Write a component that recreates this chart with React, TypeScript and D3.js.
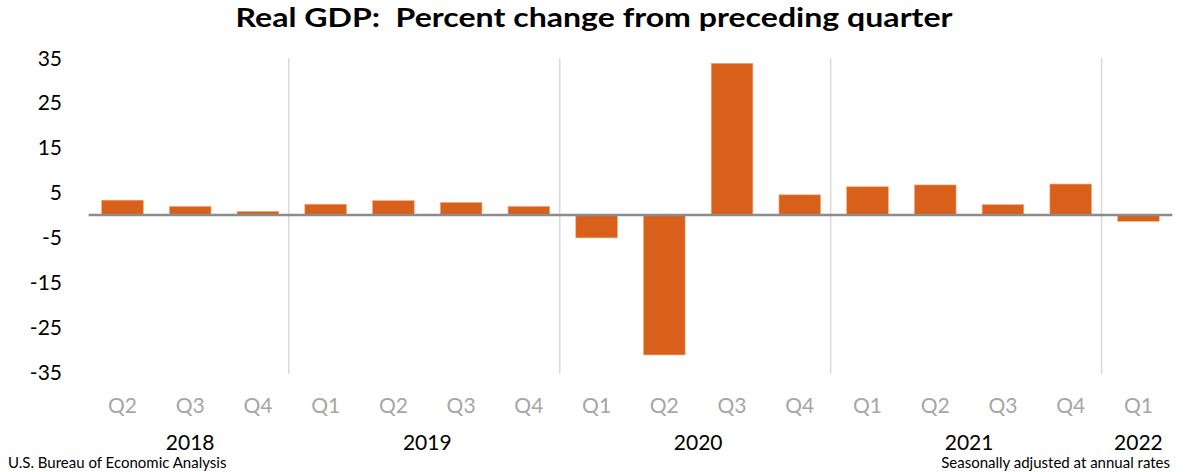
import React from "react";
import * as d3 from "d3";

const quarters = ["Q2","Q3","Q4","Q1","Q2","Q3","Q4","Q1","Q2","Q3","Q4","Q1","Q2","Q3","Q4","Q1"];
const yearOf = ["2018","2018","2018","2019","2019","2019","2019","2020","2020","2020","2020","2021","2021","2021","2021","2022"];
const values = [3.3, 1.9, 0.8, 2.4, 3.2, 2.8, 1.9, -5.1, -31.2, 33.8, 4.5, 6.3, 6.7, 2.3, 6.9, -1.4];
const yTicks = [35, 25, 15, 5, -5, -15, -25, -35];
const years = ["2018", "2019", "2020", "2021", "2022"];
const title = "Real GDP:  Percent change from preceding quarter";
const sourceNote = "U.S. Bureau of Economic Analysis";
const rateNote = "Seasonally adjusted at annual rates";

const W = 1185;
const H = 472;
const FONT = "Lato, 'Open Sans', sans-serif";

export default function App() {
  const idx = values.map((_, i) => i);
  const x = d3.scaleBand<number>().domain(idx).range([88.6, 1172.3]);
  const y = d3.scaleLinear().domain([-35, 35]).range([372, 58]);
  const step = x.step();
  const band0 = 88.6;
  const catCenter = (i: number) => (x(i) as number) + step / 2;

  const groups = years.map((yr) => {
    const ids = idx.filter((i) => yearOf[i] === yr);
    return { yr, first: ids[0], last: ids[ids.length - 1] };
  });

  return (
    <div style={{ position: "absolute", left: 0, top: 0 }}>
      <svg width={W} height={H} style={{ display: "block", background: "#fff" }}>
        <text x={594} y={27} textAnchor="middle" fontFamily={FONT} fontWeight={700} fontSize={27}
          textLength={717} lengthAdjust="spacingAndGlyphs" fill="#000" style={{ whiteSpace: "pre" }}>{title}</text>

        {groups.slice(1).map((g) => (
          <line key={g.yr} x1={(x(g.first) as number) - 3} x2={(x(g.first) as number) - 3}
            y1={y(35)} y2={374} stroke="#d9d9d9" strokeWidth={1.5} />
        ))}

        {yTicks.map((t) => (
          <text key={t} x={62} y={y(t)} dy="0.36em" textAnchor="end" fontFamily={FONT} fontSize={21} fill="#000">{t}</text>
        ))}

        {values.map((v, i) => (
          <rect key={i} x={catCenter(i) - 20.8} width={41.6}
            y={Math.min(y(v), y(0))} height={Math.abs(y(v) - y(0))}
            fill="#d9601a" stroke="#f2a779" strokeWidth={0.6} />
        ))}

        <line x1={band0} x2={band0 + step * values.length} y1={y(0)} y2={y(0)} stroke="#8c8c8c" strokeWidth={2.5} />

        {quarters.map((q, i) => (
          <text key={i} x={catCenter(i)} y={405} dy="0.36em" textAnchor="middle" fontFamily={FONT} fontSize={21} fill="#a6a6a6">{q}</text>
        ))}

        {groups.map((g) => (
          <text key={g.yr} x={(catCenter(g.first) + catCenter(g.last)) / 2} y={442} dy="0.36em" textAnchor="middle"
            fontFamily={FONT} fontSize={21} fill="#000">{g.yr}</text>
        ))}

        <text x={8} y={468} fontFamily={FONT} fontSize={15} fill="#000">{sourceNote}</text>
        <text x={1170} y={468} textAnchor="end" fontFamily={FONT} fontSize={15} fill="#000">{rateNote}</text>
      </svg>
    </div>
  );
}
